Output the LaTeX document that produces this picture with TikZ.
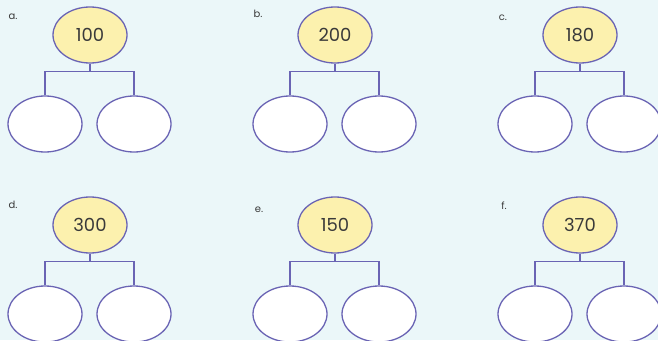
\documentclass[tikz,border=0pt]{standalone}
\usepackage{fontspec}
\setmainfont{Poppins}
\usetikzlibrary{shapes.geometric}

\definecolor{hintergrund}{HTML}{EBF7F9}
\definecolor{linie}{HTML}{6A64B4}
\definecolor{gelb}{HTML}{FCF1AE}
\definecolor{schrift}{HTML}{3A3A3A}

\tikzset{
	ganzes/.style={ellipse,draw=linie,line width=1.3pt,fill=gelb,minimum width=74pt,minimum height=56pt,inner sep=0pt,text=schrift,font=\fontsize{18}{20}\selectfont},
	teil/.style={ellipse,draw=linie,line width=1.3pt,fill=white,minimum width=74pt,minimum height=56pt,inner sep=0pt},
	verbindung/.style={draw=linie,line width=1.3pt},
	nummer/.style={text=schrift,font=\fontsize{10}{11}\selectfont,inner sep=0pt}
}

\begin{document}
\begin{tikzpicture}[x=1pt,y=-1pt]
		
		% Hintergrund
		\useasboundingbox (0,0) rectangle (658,340);
		\fill[hintergrund] (0,0) rectangle (658,340);
		\clip (0,0) rectangle (658,340);
		
		% sechs Zahlenhaeuser
		\foreach \name/\cx/\cy/\zahl/\lx/\ly in {a/90/35/100/13/17, b/335/35/200/258/14, c/580/35/180/503/18,
			d/90/225/300/13/205, e/335/225/150/259/210, f/580/225/370/504/206}{
			\node[nummer] (nr-\name) at (\lx,\ly) {\name.};
			\node[ganzes] (ganz-\name) at (\cx,\cy) {\zahl};
			\node[teil] (links-\name) at ([xshift=-45pt,yshift=-89pt]ganz-\name.center) {};
			\node[teil] (rechts-\name) at ([xshift=44pt,yshift=-89pt]ganz-\name.center) {};
			\draw[verbindung] (ganz-\name.south) -- ++(0,8) coordinate (steg-\name);
			\draw[verbindung] (links-\name.north) |- (steg-\name) -| (rechts-\name.north);
		}
		
	\end{tikzpicture}
\end{document}
